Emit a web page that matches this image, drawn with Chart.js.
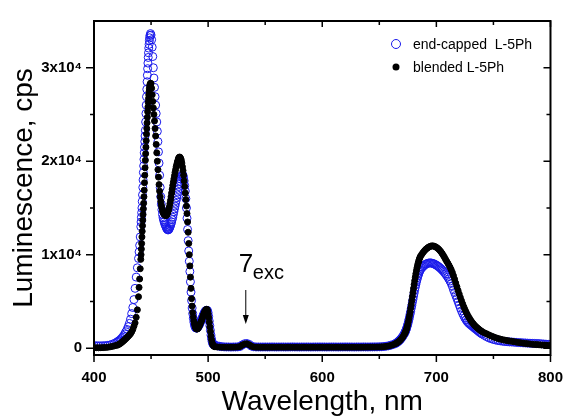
<!DOCTYPE html>
<html>
<head>
<meta charset="utf-8">
<script src="https://cdn.jsdelivr.net/npm/chart.js@4.4.1/dist/chart.umd.min.js"></script>
<style>
  body { margin: 0; background: #fff; }
</style>
</head>
<body>
<canvas id="chart" width="577" height="416"></canvas>
<script>
// Spectra (wavelength in nm, luminescence in cps)

// baseline and rising edge, 400-441 nm
const wlRise = [400,402,404,406,408,410,412,414,416,418,420,
  421,422,423,424,425,426,427,428,429,430,431,432,433,434,435,436,437,438,439,
  439.5,440,440.5,441];
const capRise = [260,260,250,250,260,270,300,340,420,520,640,
  720,800,900,1030,1170,1330,1520,1750,2000,2300,2650,3100,3700,4350,5200,6400,7600,8600,9600,
  10300,11000,11900,13000];
const blendRise = [50,50,40,50,60,80,100,140,190,250,310,
  350,420,500,590,690,800,910,1030,1150,1270,1400,1550,1750,2000,2350,2700,3300,4100,5500,
  6500,7400,8500,9500];

// blue/green bands, 441-506 nm
const wlPeaks = [441.25,441.5,441.75,442,442.25,442.5,442.75,443,443.25,443.5,443.75,444,
  444.25,444.5,444.75,445,445.25,445.5,445.75,446,446.25,446.5,446.75,447,
  447.25,447.5,447.75,448,448.25,448.5,448.75,449,
  449.5,450,450.5,451,451.5,452,452.5,453,453.5,454,
  454.5,455,455.5,456,456.5,457,457.5,458,458.5,459,
  459.5,460,460.5,461,461.5,462,462.5,463,463.5,464,
  464.5,465,465.5,466,466.5,467,467.5,468,468.5,469,
  469.5,470,470.5,471,471.5,472,472.5,473,473.5,474,
  474.5,475,475.5,476,476.5,477,477.5,478,478.5,479,
  479.5,480,480.5,481,481.5,482,482.5,483,483.5,484,
  484.5,485,485.5,486,486.5,487,487.5,488,488.5,489,
  489.5,490,490.5,491,491.5,492,492.5,493,493.5,494,
  494.5,495,495.5,496,496.5,497,497.5,498,498.5,499,
  499.5,500,500.5,501,501.5,502,502.5,503,503.5,504,
  504.5,505,505.5,506];
const capPeaks = [13500,14000,14500,15000,15700,16400,17200,18000,18800,19500,20200,20900,
  21500,22100,22700,23300,24200,25100,26000,26900,27700,28500,29200,29900,
  30500,31100,31600,32100,32500,32900,33200,33450,
  33650,33500,33000,32200,31200,30000,28900,27900,26900,26000,
  25100,24200,23200,22100,21000,19800,18500,17200,16200,15400,
  14800,14300,13950,13700,13500,13300,13150,13000,12850,12750,
  12680,12650,12700,12800,12950,13100,13300,13500,13750,14000,
  14300,14600,14900,15200,15500,15800,16100,16400,16700,17000,
  17300,17600,17850,18100,18300,18450,18550,18500,18250,17900,
  17400,16800,16000,15000,13900,12700,11500,10400,9300,8200,
  7100,6000,5100,4300,3700,3200,2800,2500,2300,2200,
  2150,2150,2200,2250,2350,2450,2550,2700,2850,3000,
  3150,3300,3450,3600,3750,3850,3950,4000,4050,4050,
  4000,3800,3400,2900,2400,1900,1400,1000,700,500,
  420,370,330,300];
const blendPeaks = [10000,10600,11200,11900,12500,13100,13700,14300,14900,15500,16200,16900,
  17700,18500,19300,20100,20800,21500,22200,22900,23500,24100,24700,25300,
  25800,26300,26700,27100,27450,27750,28000,28200,
  28350,28300,27800,27100,26400,25700,25000,24300,23500,22700,
  21800,20900,20000,19100,18300,17500,16800,16200,15700,15300,
  15000,14750,14550,14400,14300,14250,14200,14200,14200,14300,
  14450,14650,14850,15100,15450,15800,16200,16600,17000,17400,
  17750,18100,18450,18800,19100,19400,19650,19900,20100,20300,
  20400,20450,20400,20300,20100,19800,19400,19000,18500,17900,
  17300,16600,15900,15200,14400,13500,12400,11200,10000,8800,
  7600,6400,5300,4500,3800,3300,2900,2600,2350,2200,
  2100,2050,2050,2100,2200,2300,2450,2600,2750,2900,
  3050,3250,3450,3600,3750,3900,4000,4100,4150,4150,
  4000,3700,3300,2800,2300,1800,1300,900,600,400,
  300,230,180,150];

// flat part with the excitation line, 508-664 nm
const wlFlat = [508,510,512,514,516,518,520,522,524,526,528,530,532,534,536,538,540,542,
  544,546,548,550,552,554,556,558,560,562,
  564,566,568,570,572,574,576,578,580,582,
  584,586,588,590,592,594,596,598,600,602,
  604,606,608,610,612,614,616,618,620,622,
  624,626,628,630,632,634,636,638,640,642,
  644,646,648,
  650,652,654,656,658,660,662,664];
const capFlat = [250,200,160,140,130,130,120,130,130,140,180,350,480,500,400,220,150,130,
  130,125,130,130,125,130,135,130,125,130,
  130,130,125,130,130,135,130,130,125,130,
  130,130,130,125,130,130,130,135,130,130,
  125,130,130,130,130,125,130,130,135,130,
  130,130,125,130,130,130,135,130,130,135,
  135,140,140,
  150,160,180,210,250,310,390,490];
const blendFlat = [130,120,110,110,110,110,110,110,115,130,170,330,450,470,370,200,130,110,
  110,110,105,110,110,110,105,110,110,110,
  110,105,110,110,110,110,105,110,110,110,
  110,110,105,110,110,110,110,105,110,110,
  110,110,110,105,110,110,110,110,105,110,
  110,110,110,110,105,110,110,115,115,115,
  120,120,125,
  130,140,160,190,230,290,370,470];

// red band and tail, 665-800 nm
const wlRed = [665,666,667,668,669,670,671,672,
  672.5,673,673.5,674,674.5,675,675.5,676,676.5,677,677.5,678,678.5,679,
  679.5,680,680.5,681,681.5,682,682.5,683,683.5,684,684.5,685,685.5,686,
  687,688,689,690,691,692,693,694,695,696,
  697,698,699,700,701,702,703,704,705,706,
  707,708,709,710,711,712,713,714,715,716,
  717,718,719,720,721,722,723,724,725,726,
  727,728,729,730,731,732,733,734,735,736,
  737,738,739,740,
  742,744,746,748,750,752,754,756,758,760,
  762,764,766,768,770,772,774,776,778,780,
  782,784,786,788,790,792,794,796,798,800];
const capRed = [560,650,750,870,1010,1170,1350,1560,
  1680,1820,1980,2160,2360,2580,2820,3080,3360,3650,3950,4260,4580,4900,
  5230,5560,5880,6200,6510,6800,7070,7320,7550,7760,7950,8120,8270,8400,
  8560,8700,8820,8920,9000,9060,9100,9120,9120,9100,
  9060,9010,8950,8880,8800,8710,8610,8500,8380,8250,
  8110,7950,7780,7600,7400,7180,6930,6620,6250,5950,
  5640,5320,4980,4640,4310,4000,3720,3460,3230,3030,
  2860,2720,2600,2500,2400,2300,2200,2100,2000,1900,
  1800,1700,1610,1520,
  1370,1230,1110,1010,930,870,820,780,740,710,
  690,670,660,640,620,600,590,570,560,540,
  530,520,510,500,490,470,450,430,410,400];
const blendRed = [540,620,710,820,950,1100,1280,1500,
  1620,1760,1920,2110,2330,2580,2860,3170,3510,3880,4270,4680,5100,5530,
  5960,6390,6810,7210,7590,7950,8280,8580,8850,9090,9310,9500,9670,9820,
  10000,10180,10340,10480,10600,10700,10790,10860,10910,10940,
  10940,10910,10860,10790,10700,10590,10460,10310,10140,9950,
  9740,9510,9300,9100,8880,8650,8400,8100,7750,7370,
  6970,6570,6180,5800,5430,5080,4750,4440,4150,3880,
  3630,3400,3190,3000,2820,2660,2510,2380,2260,2150,
  2050,1950,1860,1780,
  1650,1540,1420,1310,1210,1120,1040,970,910,860,
  810,770,730,690,650,610,570,540,510,480,
  450,420,400,380,360,340,330,320,310,300];

// axes
const xTicks = [400, 500, 600, 700, 800];
const xMinor = [450, 550, 650, 750];
const yTicks = [0, 10000, 20000, 30000];
const yMinor = [5000, 15000, 25000];
const yLabels = ['0', '1x10\u2074', '2x10\u2074', '3x10\u2074'];
const exciteAt = 533;

const wavelength = [].concat(wlRise, wlPeaks, wlFlat, wlRed);
const endCapped = [].concat(capRise, capPeaks, capFlat, capRed);
const blended = [].concat(blendRise, blendPeaks, blendFlat, blendRed);
if (wavelength.length !== endCapped.length || wavelength.length !== blended.length) {
  console.warn('length mismatch', wavelength.length, endCapped.length, blended.length);
}

const BLUE = 'rgb(25,25,235)';
const FONT = '"Liberation Sans", Arial, sans-serif';

// frame, ticks, legend and the excitation arrow
const decor = {
  id: 'decor',
  afterDatasetsDraw(chart) {
    const {ctx, chartArea: a, scales: {x, y}} = chart;
    ctx.save();
    ctx.strokeStyle = '#000';
    ctx.lineWidth = 1.5;
    ctx.beginPath();
    // bottom/left: outward, top/right: inward
    xTicks.forEach(v => {
      const p = x.getPixelForValue(v);
      ctx.moveTo(p, a.bottom); ctx.lineTo(p, a.bottom + 7);
      ctx.moveTo(p, a.top); ctx.lineTo(p, a.top + 6);
    });
    xMinor.forEach(v => {
      const p = x.getPixelForValue(v);
      ctx.moveTo(p, a.bottom); ctx.lineTo(p, a.bottom + 4);
      ctx.moveTo(p, a.top); ctx.lineTo(p, a.top + 4);
    });
    yTicks.forEach(v => {
      const p = y.getPixelForValue(v);
      ctx.moveTo(a.left, p); ctx.lineTo(a.left - 8, p);
      ctx.moveTo(a.right, p); ctx.lineTo(a.right - 7, p);
    });
    yMinor.forEach(v => {
      const p = y.getPixelForValue(v);
      ctx.moveTo(a.left, p); ctx.lineTo(a.left - 4, p);
      ctx.moveTo(a.right, p); ctx.lineTo(a.right - 4, p);
    });
    ctx.stroke();
    ctx.lineWidth = 2;
    ctx.strokeRect(a.left, a.top, a.right - a.left, a.bottom - a.top);

    // legend
    ctx.lineWidth = 1;
    ctx.strokeStyle = BLUE;
    ctx.beginPath(); ctx.arc(396, 44, 4.5, 0, Math.PI * 2); ctx.stroke();
    ctx.fillStyle = '#000';
    ctx.beginPath(); ctx.arc(396, 67, 3.5, 0, Math.PI * 2); ctx.fill();
    ctx.font = '14px ' + FONT;
    ctx.textBaseline = 'middle';
    ctx.textAlign = 'left';
    ctx.fillText('end-capped  L-5Ph', 413, 45);
    ctx.fillText('blended L-5Ph', 413, 68);

    // excitation marker
    const ex = x.getPixelForValue(exciteAt);
    ctx.textBaseline = 'alphabetic';
    ctx.font = '26px ' + FONT;
    ctx.fillText('7', ex - 7, 272);
    ctx.font = '20px ' + FONT;
    ctx.fillText('exc', ex + 7, 279);
    ctx.strokeStyle = '#000';
    ctx.lineWidth = 1;
    ctx.beginPath(); ctx.moveTo(ex, 290); ctx.lineTo(ex, 316); ctx.stroke();
    ctx.beginPath();
    ctx.moveTo(ex - 3, 315); ctx.lineTo(ex + 3, 315); ctx.lineTo(ex, 324);
    ctx.closePath(); ctx.fill();
    ctx.restore();
  }
};

new Chart(document.getElementById('chart'), {
  type: 'scatter',
  data: {
    datasets: [
      {
        label: 'blended L-5Ph',
        data: wavelength.map((w, i) => ({x: w, y: blended[i]})),
        showLine: false,
        pointRadius: 3,
        pointBorderWidth: 1,
        pointBackgroundColor: '#000',
        pointBorderColor: '#000',
        order: 0
      },
      {
        label: 'end-capped L-5Ph',
        data: wavelength.map((w, i) => ({x: w, y: endCapped[i]})),
        showLine: false,
        pointRadius: 4,
        pointBorderWidth: 1,
        pointBackgroundColor: 'rgba(0,0,0,0)',
        pointBorderColor: BLUE,
        order: 1
      }
    ]
  },
  options: {
    responsive: false,
    animation: false,
    devicePixelRatio: 1,
    layout: {padding: {top: 12, right: 15, left: 0, bottom: 0}},
    plugins: {legend: {display: false}, tooltip: {enabled: false}},
    scales: {
      x: {
        type: 'linear',
        min: 400,
        max: 800,
        afterFit: s => { s.height = 61; },
        afterBuildTicks: s => { s.ticks = xTicks.map(v => ({value: v})); },
        grid: {display: false, drawTicks: false},
        border: {display: false},
        ticks: {
          color: '#000',
          padding: 14,
          maxRotation: 0,
          autoSkip: false,
          font: {family: FONT, size: 15, weight: 'bold'}
        },
        title: {
          display: true,
          text: 'Wavelength, nm',
          color: '#000',
          padding: 0,
          font: {family: FONT, size: 28, lineHeight: 1}
        }
      },
      y: {
        min: -730,
        max: 35000,
        afterFit: s => { s.width = 94; },
        afterBuildTicks: s => { s.ticks = yTicks.map(v => ({value: v})); },
        grid: {display: false, drawTicks: false},
        border: {display: false},
        ticks: {
          color: '#000',
          padding: 12,
          autoSkip: false,
          font: {family: FONT, size: 15, weight: 'bold'},
          callback: (v, i) => yLabels[i]
        },
        title: {
          display: true,
          text: 'Luminescence, cps',
          color: '#000',
          padding: {top: 10, bottom: 0},
          font: {family: FONT, size: 28, lineHeight: 1}
        }
      }
    }
  },
  plugins: [decor]
});
</script>
</body>
</html>
